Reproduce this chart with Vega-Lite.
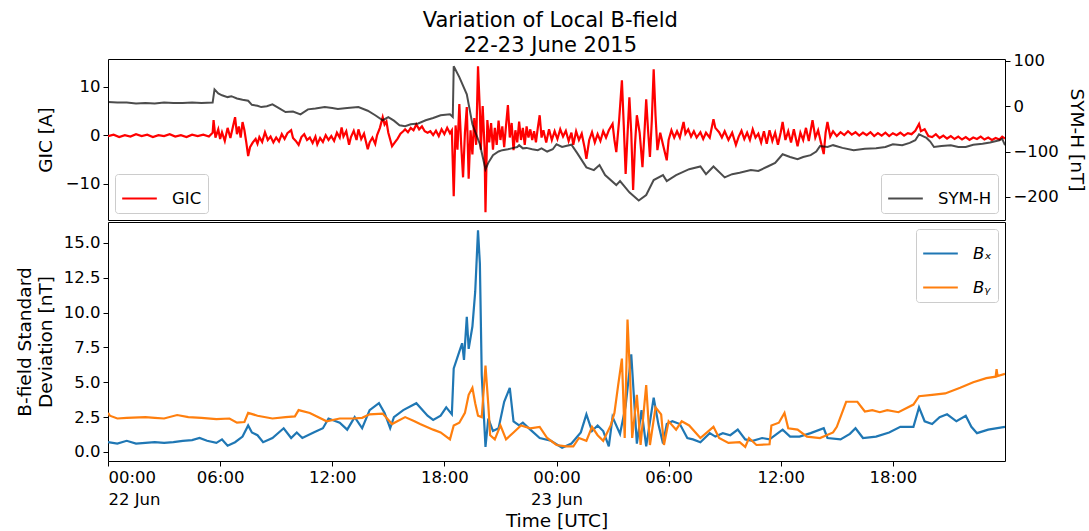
{
"$schema":"https://vega.github.io/schema/vega-lite/v6.json",
"padding":{"left":14,"top":10,"right":5,"bottom":5},
"config":{"font":"DejaVu Sans","view":{"stroke":"#000","strokeWidth":1},
 "axis":{"domain":false,"grid":false,"tickColor":"#000","tickSize":5,"labelColor":"#000","titleColor":"#000","labelFontSize":16.5,"titleFontSize":18.5,"titleFontWeight":"normal","labelPadding":3,"labelOverlap":false},
 "legend":{"symbolType":"stroke","symbolStrokeWidth":2,"symbolSize":1200,"labelFontSize":16.5,"labelColor":"#000","strokeColor":"#cccccc","fillColor":"white","cornerRadius":3,"padding":6,"labelOffset":14,"offset":7,"rowPadding":7,"title":null}},
"title":{"text":["Variation of Local B-field","22-23 June 2015"],"fontSize":21,"fontWeight":"normal","lineHeight":25,"anchor":"middle","offset":-4,"color":"#000"},
"datasets":{
"gic":[{"h":0,"v":-0.2},{"h":0.3,"v":0.1},{"h":0.6,"v":-0.4},{"h":0.9,"v":0.0},{"h":1.2,"v":-0.3},{"h":1.5,"v":0.2},{"h":1.8,"v":-0.2},{"h":2.1,"v":0.1},{"h":2.4,"v":-0.4},{"h":2.7,"v":0.0},{"h":3.0,"v":-0.2},{"h":3.3,"v":0.2},{"h":3.6,"v":-0.3},{"h":3.9,"v":0.0},{"h":4.2,"v":-0.4},{"h":4.5,"v":0.1},{"h":4.8,"v":-0.2},{"h":5.1,"v":0.1},{"h":5.4,"v":-0.3},{"h":5.6,"v":0.5},{"h":5.65,"v":3.1},{"h":5.75,"v":-0.5},{"h":5.9,"v":1.2},{"h":6.0,"v":-0.8},{"h":6.1,"v":0.6},{"h":6.25,"v":-1.2},{"h":6.4,"v":1.5},{"h":6.55,"v":-0.6},{"h":6.7,"v":2.0},{"h":6.8,"v":3.7},{"h":6.9,"v":0.2},{"h":7.0,"v":1.8},{"h":7.1,"v":-0.5},{"h":7.2,"v":2.7},{"h":7.3,"v":1.0},{"h":7.4,"v":-1.5},{"h":7.5,"v":-4.3},{"h":7.6,"v":-2.5},{"h":7.75,"v":-1.5},{"h":7.9,"v":-0.8},{"h":8.0,"v":-1.8},{"h":8.1,"v":-0.4},{"h":8.25,"v":-1.4},{"h":8.4,"v":0.6},{"h":8.55,"v":-1.0},{"h":8.7,"v":-0.3},{"h":8.85,"v":-1.5},{"h":9.0,"v":-0.5},{"h":9.15,"v":-1.3},{"h":9.3,"v":0.2},{"h":9.45,"v":-0.8},{"h":9.6,"v":0.4},{"h":9.8,"v":1.0},{"h":9.9,"v":-0.6},{"h":10.05,"v":-1.2},{"h":10.2,"v":-2.0},{"h":10.35,"v":-0.4},{"h":10.5,"v":0.2},{"h":10.65,"v":-1.0},{"h":10.8,"v":-0.5},{"h":10.95,"v":-1.6},{"h":11.1,"v":-0.3},{"h":11.2,"v":-1.9},{"h":11.35,"v":-0.6},{"h":11.5,"v":-1.4},{"h":11.65,"v":0.0},{"h":11.8,"v":-1.0},{"h":11.95,"v":-0.2},{"h":12.1,"v":-1.2},{"h":12.25,"v":0.5},{"h":12.4,"v":-0.5},{"h":12.5,"v":1.6},{"h":12.6,"v":-0.3},{"h":12.75,"v":0.8},{"h":12.9,"v":-2.0},{"h":13.0,"v":-0.4},{"h":13.15,"v":0.9},{"h":13.3,"v":-1.0},{"h":13.4,"v":1.2},{"h":13.55,"v":-0.8},{"h":13.7,"v":0.3},{"h":13.9,"v":-2.9},{"h":14.0,"v":-1.5},{"h":14.15,"v":-0.5},{"h":14.3,"v":-1.8},{"h":14.4,"v":0.0},{"h":14.55,"v":1.5},{"h":14.7,"v":3.7},{"h":14.8,"v":2.2},{"h":14.9,"v":2.8},{"h":15.0,"v":0.5},{"h":15.2,"v":-2.3},{"h":15.35,"v":-1.5},{"h":15.5,"v":-0.7},{"h":15.65,"v":0.3},{"h":15.8,"v":0.8},{"h":15.9,"v":1.2},{"h":16.05,"v":0.6},{"h":16.2,"v":1.5},{"h":16.35,"v":1.0},{"h":16.5,"v":2.2},{"h":16.65,"v":1.2},{"h":16.8,"v":1.8},{"h":16.95,"v":0.8},{"h":17.1,"v":0.5},{"h":17.25,"v":0.8},{"h":17.4,"v":0.0},{"h":17.55,"v":0.9},{"h":17.7,"v":-0.2},{"h":17.85,"v":1.2},{"h":18.0,"v":0.2},{"h":18.15,"v":1.5},{"h":18.3,"v":0.4},{"h":18.4,"v":1.0},{"h":18.5,"v":-12.6},{"h":18.6,"v":2.0},{"h":18.7,"v":-3.0},{"h":18.8,"v":6.4},{"h":18.9,"v":-2.0},{"h":19.0,"v":-8.7},{"h":19.1,"v":0.5},{"h":19.2,"v":5.8},{"h":19.3,"v":-9.0},{"h":19.4,"v":1.0},{"h":19.5,"v":-4.0},{"h":19.6,"v":3.5},{"h":19.7,"v":-2.0},{"h":19.8,"v":14.2},{"h":19.9,"v":5.0},{"h":19.95,"v":-3.0},{"h":20.05,"v":6.0},{"h":20.15,"v":-2.5},{"h":20.2,"v":-15.9},{"h":20.3,"v":3.1},{"h":20.4,"v":-1.5},{"h":20.5,"v":2.5},{"h":20.6,"v":-3.0},{"h":20.7,"v":1.5},{"h":20.8,"v":-2.0},{"h":20.9,"v":3.0},{"h":21.0,"v":-1.0},{"h":21.1,"v":1.8},{"h":21.2,"v":-2.5},{"h":21.3,"v":2.0},{"h":21.4,"v":6.2},{"h":21.5,"v":-0.5},{"h":21.6,"v":2.5},{"h":21.7,"v":-3.1},{"h":21.8,"v":1.0},{"h":21.9,"v":-1.5},{"h":22.0,"v":2.8},{"h":22.1,"v":-1.0},{"h":22.2,"v":1.5},{"h":22.3,"v":-2.0},{"h":22.4,"v":1.8},{"h":22.5,"v":-0.5},{"h":22.6,"v":1.2},{"h":22.7,"v":-1.0},{"h":22.8,"v":0.8},{"h":22.9,"v":-1.5},{"h":23.0,"v":1.5},{"h":23.1,"v":4.1},{"h":23.2,"v":-0.5},{"h":23.3,"v":1.0},{"h":23.45,"v":-1.5},{"h":23.6,"v":1.2},{"h":23.75,"v":-1.0},{"h":23.9,"v":0.8},{"h":24.05,"v":-0.8},{"h":24.2,"v":1.2},{"h":24.35,"v":-0.3},{"h":24.5,"v":0.9},{"h":24.65,"v":-1.2},{"h":24.8,"v":0.5},{"h":24.9,"v":-2.0},{"h":25.05,"v":0.8},{"h":25.2,"v":-1.0},{"h":25.35,"v":0.3},{"h":25.5,"v":-2.5},{"h":25.6,"v":-4.9},{"h":25.75,"v":-1.0},{"h":25.9,"v":0.6},{"h":26.05,"v":-1.5},{"h":26.2,"v":0.2},{"h":26.35,"v":-1.2},{"h":26.5,"v":0.8},{"h":26.65,"v":-0.5},{"h":26.8,"v":1.0},{"h":27.0,"v":2.3},{"h":27.1,"v":-1.0},{"h":27.2,"v":-3.5},{"h":27.35,"v":3.0},{"h":27.5,"v":11.3},{"h":27.6,"v":2.0},{"h":27.7,"v":-8.0},{"h":27.8,"v":0.0},{"h":27.9,"v":7.8},{"h":28.0,"v":0.5},{"h":28.1,"v":-11.3},{"h":28.2,"v":-2.0},{"h":28.3,"v":4.1},{"h":28.45,"v":0.5},{"h":28.6,"v":-6.6},{"h":28.7,"v":0.0},{"h":28.8,"v":7.4},{"h":28.9,"v":1.0},{"h":29.0,"v":-4.5},{"h":29.1,"v":3.0},{"h":29.2,"v":13.6},{"h":29.3,"v":4.0},{"h":29.4,"v":-3.1},{"h":29.55,"v":0.5},{"h":29.7,"v":-2.0},{"h":29.9,"v":-5.2},{"h":30.0,"v":-1.0},{"h":30.15,"v":1.0},{"h":30.3,"v":-0.5},{"h":30.45,"v":0.8},{"h":30.6,"v":-0.5},{"h":30.8,"v":2.7},{"h":30.9,"v":0.3},{"h":31.05,"v":1.2},{"h":31.2,"v":-0.3},{"h":31.35,"v":0.8},{"h":31.5,"v":-0.5},{"h":31.7,"v":0.6},{"h":31.85,"v":-0.8},{"h":32.0,"v":0.5},{"h":32.2,"v":-0.5},{"h":32.4,"v":3.3},{"h":32.5,"v":1.5},{"h":32.7,"v":0.6},{"h":32.85,"v":-0.5},{"h":33.0,"v":0.8},{"h":33.2,"v":-1.0},{"h":33.4,"v":0.5},{"h":33.6,"v":-2.0},{"h":33.75,"v":-0.3},{"h":33.9,"v":0.9},{"h":34.05,"v":-0.8},{"h":34.2,"v":0.5},{"h":34.35,"v":-1.0},{"h":34.5,"v":1.2},{"h":34.65,"v":-0.5},{"h":34.8,"v":0.3},{"h":34.95,"v":-1.5},{"h":35.1,"v":0.8},{"h":35.25,"v":-1.8},{"h":35.4,"v":1.0},{"h":35.55,"v":-1.2},{"h":35.7,"v":0.5},{"h":35.85,"v":-2.0},{"h":36.0,"v":0.6},{"h":36.1,"v":2.7},{"h":36.25,"v":-1.0},{"h":36.4,"v":0.8},{"h":36.55,"v":-1.5},{"h":36.7,"v":1.2},{"h":36.9,"v":-2.3},{"h":37.05,"v":0.5},{"h":37.2,"v":-1.0},{"h":37.35,"v":1.5},{"h":37.5,"v":-1.2},{"h":37.7,"v":3.1},{"h":37.85,"v":-0.5},{"h":38.0,"v":1.0},{"h":38.15,"v":-1.5},{"h":38.3,"v":-3.9},{"h":38.4,"v":0.5},{"h":38.5,"v":2.7},{"h":38.65,"v":-0.3},{"h":38.8,"v":0.8},{"h":39.0,"v":-0.2},{"h":39.2,"v":0.6},{"h":39.4,"v":0.0},{"h":39.6,"v":0.8},{"h":39.8,"v":0.1},{"h":40.0,"v":0.6},{"h":40.2,"v":-0.1},{"h":40.4,"v":0.5},{"h":40.6,"v":0.0},{"h":40.8,"v":0.6},{"h":41.0,"v":-0.2},{"h":41.2,"v":0.4},{"h":41.4,"v":-0.1},{"h":41.6,"v":0.5},{"h":41.8,"v":-0.2},{"h":42.0,"v":0.4},{"h":42.2,"v":0.0},{"h":42.4,"v":0.5},{"h":42.6,"v":-0.1},{"h":42.8,"v":0.4},{"h":43.0,"v":0.2},{"h":43.2,"v":0.9},{"h":43.4,"v":2.3},{"h":43.5,"v":0.8},{"h":43.7,"v":1.2},{"h":43.9,"v":-0.2},{"h":44.1,"v":-0.4},{"h":44.3,"v":0.2},{"h":44.5,"v":-0.6},{"h":44.7,"v":-0.1},{"h":44.9,"v":-0.7},{"h":45.1,"v":-0.2},{"h":45.3,"v":-0.8},{"h":45.5,"v":-0.3},{"h":45.7,"v":-0.9},{"h":45.9,"v":-0.4},{"h":46.1,"v":-1.0},{"h":46.3,"v":-0.5},{"h":46.5,"v":-0.8},{"h":46.7,"v":-0.3},{"h":46.9,"v":-0.9},{"h":47.1,"v":-0.5},{"h":47.3,"v":-1.0},{"h":47.5,"v":-0.6},{"h":47.7,"v":-0.9},{"h":47.85,"v":-0.3},{"h":48.0,"v":-0.7}],
"symh":[{"h":0,"v":9},{"h":0.5,"v":8},{"h":1,"v":8},{"h":1.5,"v":6},{"h":2,"v":7},{"h":2.5,"v":6},{"h":3,"v":8},{"h":3.5,"v":7},{"h":4,"v":7},{"h":4.5,"v":8},{"h":5,"v":7},{"h":5.6,"v":8},{"h":5.7,"v":37},{"h":5.9,"v":28},{"h":6.1,"v":24},{"h":6.4,"v":20},{"h":6.6,"v":22},{"h":6.9,"v":17},{"h":7.2,"v":14},{"h":7.5,"v":12},{"h":7.7,"v":3},{"h":8.0,"v":1},{"h":8.2,"v":-2},{"h":8.5,"v":0},{"h":8.8,"v":4},{"h":9.1,"v":-3},{"h":9.5,"v":-13},{"h":9.9,"v":-12},{"h":10.3,"v":-18},{"h":10.7,"v":-7},{"h":11.1,"v":-5},{"h":11.6,"v":-2},{"h":12.0,"v":-4},{"h":12.3,"v":-6},{"h":12.8,"v":-4},{"h":13.4,"v":-2},{"h":13.9,"v":-10},{"h":14.3,"v":-20},{"h":14.7,"v":-31},{"h":15.0,"v":-24},{"h":15.3,"v":-32},{"h":15.6,"v":-42},{"h":15.9,"v":-44},{"h":16.2,"v":-40},{"h":16.6,"v":-38},{"h":17.0,"v":-31},{"h":17.4,"v":-26},{"h":17.8,"v":-20},{"h":18.3,"v":-18},{"h":18.45,"v":-24},{"h":18.5,"v":88},{"h":18.8,"v":64},{"h":19.2,"v":26},{"h":19.5,"v":-40},{"h":19.9,"v":-84},{"h":20.2,"v":-139},{"h":20.35,"v":-125},{"h":20.6,"v":-108},{"h":20.9,"v":-100},{"h":21.1,"v":-97},{"h":21.4,"v":-95},{"h":21.7,"v":-92},{"h":21.9,"v":-90},{"h":22.0,"v":-86},{"h":22.2,"v":-93},{"h":22.4,"v":-92},{"h":22.7,"v":-95},{"h":23.0,"v":-97},{"h":23.2,"v":-93},{"h":23.5,"v":-100},{"h":23.8,"v":-95},{"h":24.0,"v":-84},{"h":24.3,"v":-90},{"h":24.5,"v":-88},{"h":24.8,"v":-85},{"h":25.1,"v":-103},{"h":25.6,"v":-135},{"h":26.0,"v":-141},{"h":26.3,"v":-130},{"h":26.6,"v":-152},{"h":27.2,"v":-174},{"h":27.4,"v":-165},{"h":27.9,"v":-190},{"h":28.4,"v":-208},{"h":28.8,"v":-196},{"h":29.2,"v":-163},{"h":29.7,"v":-152},{"h":29.9,"v":-165},{"h":30.4,"v":-152},{"h":31.1,"v":-139},{"h":31.7,"v":-133},{"h":32.0,"v":-150},{"h":32.4,"v":-133},{"h":33.0,"v":-157},{"h":33.4,"v":-150},{"h":33.8,"v":-147},{"h":34.4,"v":-141},{"h":34.8,"v":-143},{"h":35.3,"v":-133},{"h":35.7,"v":-125},{"h":36.1,"v":-106},{"h":36.5,"v":-112},{"h":36.9,"v":-117},{"h":37.2,"v":-112},{"h":37.6,"v":-108},{"h":37.9,"v":-100},{"h":38.1,"v":-88},{"h":38.5,"v":-90},{"h":38.8,"v":-86},{"h":39.3,"v":-92},{"h":39.9,"v":-97},{"h":40.5,"v":-94},{"h":41.1,"v":-93},{"h":41.6,"v":-90},{"h":42.0,"v":-84},{"h":42.5,"v":-86},{"h":42.9,"v":-81},{"h":43.2,"v":-75},{"h":43.4,"v":-62},{"h":43.6,"v":-66},{"h":43.8,"v":-70},{"h":44.0,"v":-78},{"h":44.2,"v":-90},{"h":44.6,"v":-88},{"h":45.1,"v":-86},{"h":45.5,"v":-90},{"h":45.9,"v":-90},{"h":46.3,"v":-85},{"h":46.8,"v":-83},{"h":47.2,"v":-80},{"h":47.7,"v":-75},{"h":47.85,"v":-72},{"h":48.0,"v":-86}],
"bx":[{"h":0,"v":0.7},{"h":0.5,"v":0.6},{"h":1.0,"v":0.8},{"h":1.5,"v":0.6},{"h":2.0,"v":0.65},{"h":2.5,"v":0.7},{"h":3.0,"v":0.65},{"h":3.5,"v":0.7},{"h":4.0,"v":0.8},{"h":4.5,"v":0.85},{"h":4.9,"v":1.0},{"h":5.3,"v":0.8},{"h":5.8,"v":0.65},{"h":6.1,"v":0.9},{"h":6.4,"v":0.45},{"h":6.8,"v":0.7},{"h":7.2,"v":1.1},{"h":7.5,"v":1.9},{"h":7.7,"v":1.4},{"h":8.0,"v":1.2},{"h":8.3,"v":0.7},{"h":8.8,"v":1.0},{"h":9.4,"v":1.7},{"h":9.8,"v":1.0},{"h":10.1,"v":1.4},{"h":10.4,"v":1.0},{"h":11.0,"v":1.4},{"h":11.5,"v":1.7},{"h":11.8,"v":2.4},{"h":12.4,"v":2.1},{"h":12.8,"v":1.6},{"h":13.2,"v":2.5},{"h":13.6,"v":1.7},{"h":14.0,"v":3.0},{"h":14.5,"v":3.5},{"h":14.8,"v":2.8},{"h":15.1,"v":1.7},{"h":15.3,"v":2.5},{"h":15.8,"v":3.0},{"h":16.5,"v":3.5},{"h":17.1,"v":2.6},{"h":17.4,"v":2.3},{"h":17.8,"v":2.6},{"h":18.1,"v":3.2},{"h":18.4,"v":2.7},{"h":18.5,"v":6.0},{"h":18.8,"v":7.2},{"h":18.95,"v":7.8},{"h":19.05,"v":6.6},{"h":19.2,"v":9.7},{"h":19.3,"v":7.4},{"h":19.5,"v":9.0},{"h":19.65,"v":11.5},{"h":19.8,"v":15.9},{"h":19.9,"v":13.5},{"h":20.0,"v":5.5},{"h":20.2,"v":0.36},{"h":20.35,"v":2.4},{"h":20.6,"v":1.5},{"h":20.9,"v":1.7},{"h":21.2,"v":3.6},{"h":21.5,"v":4.6},{"h":21.7,"v":2.2},{"h":22.0,"v":1.9},{"h":22.2,"v":2.1},{"h":22.6,"v":1.6},{"h":23.1,"v":1.0},{"h":23.7,"v":0.8},{"h":24.3,"v":0.3},{"h":24.8,"v":0.6},{"h":25.3,"v":1.4},{"h":25.6,"v":2.7},{"h":25.9,"v":1.5},{"h":26.2,"v":1.9},{"h":26.5,"v":1.5},{"h":26.8,"v":0.4},{"h":27.0,"v":2.5},{"h":27.4,"v":1.3},{"h":27.7,"v":3.3},{"h":28.0,"v":7.0},{"h":28.15,"v":3.8},{"h":28.3,"v":0.6},{"h":28.55,"v":3.0},{"h":28.8,"v":0.4},{"h":29.2,"v":3.9},{"h":29.45,"v":2.0},{"h":29.7,"v":0.6},{"h":29.9,"v":2.0},{"h":30.2,"v":2.2},{"h":30.6,"v":2.0},{"h":31.0,"v":1.0},{"h":31.3,"v":0.9},{"h":31.7,"v":0.7},{"h":32.2,"v":1.35},{"h":32.5,"v":1.1},{"h":32.9,"v":1.35},{"h":33.3,"v":1.2},{"h":33.7,"v":1.6},{"h":34.1,"v":0.9},{"h":34.5,"v":0.8},{"h":35.0,"v":1.0},{"h":35.4,"v":0.9},{"h":36.1,"v":1.6},{"h":36.5,"v":1.1},{"h":37.0,"v":1.1},{"h":37.6,"v":1.35},{"h":38.3,"v":1.7},{"h":38.5,"v":1.0},{"h":39.2,"v":0.9},{"h":39.7,"v":1.3},{"h":40.0,"v":1.7},{"h":40.4,"v":1.0},{"h":41.1,"v":1.1},{"h":41.8,"v":1.4},{"h":42.4,"v":1.8},{"h":43.1,"v":1.8},{"h":43.4,"v":3.2},{"h":43.7,"v":2.2},{"h":44.1,"v":2.0},{"h":44.5,"v":2.5},{"h":44.9,"v":2.7},{"h":45.4,"v":2.2},{"h":45.9,"v":2.6},{"h":46.2,"v":1.8},{"h":46.5,"v":1.35},{"h":47.1,"v":1.6},{"h":48.0,"v":1.8}],
"by":[{"h":0,"v":2.8},{"h":0.1,"v":2.6},{"h":0.5,"v":2.4},{"h":1.0,"v":2.45},{"h":2.0,"v":2.5},{"h":2.5,"v":2.45},{"h":3.0,"v":2.4},{"h":3.7,"v":2.65},{"h":4.3,"v":2.5},{"h":5.0,"v":2.45},{"h":5.8,"v":2.35},{"h":6.5,"v":2.4},{"h":6.9,"v":2.1},{"h":7.3,"v":2.15},{"h":7.5,"v":2.8},{"h":8.0,"v":2.6},{"h":8.8,"v":2.4},{"h":9.5,"v":2.5},{"h":10.0,"v":2.55},{"h":10.2,"v":3.0},{"h":10.8,"v":2.8},{"h":11.7,"v":2.2},{"h":12.4,"v":2.4},{"h":13.1,"v":2.4},{"h":13.6,"v":2.45},{"h":14.0,"v":2.7},{"h":14.7,"v":2.75},{"h":15.2,"v":2.0},{"h":15.9,"v":2.5},{"h":16.4,"v":2.2},{"h":16.7,"v":2.0},{"h":17.4,"v":1.6},{"h":17.8,"v":1.4},{"h":18.3,"v":0.9},{"h":18.5,"v":1.9},{"h":18.8,"v":2.1},{"h":19.1,"v":2.8},{"h":19.3,"v":4.1},{"h":19.5,"v":4.6},{"h":19.65,"v":3.5},{"h":19.8,"v":2.6},{"h":20.0,"v":2.5},{"h":20.2,"v":6.2},{"h":20.35,"v":3.4},{"h":20.45,"v":1.2},{"h":20.7,"v":0.9},{"h":21.0,"v":1.9},{"h":21.3,"v":0.9},{"h":21.7,"v":1.4},{"h":22.1,"v":1.9},{"h":22.6,"v":1.7},{"h":23.1,"v":1.8},{"h":23.5,"v":1.0},{"h":24.0,"v":0.5},{"h":24.5,"v":0.4},{"h":24.9,"v":0.4},{"h":25.2,"v":1.0},{"h":25.6,"v":0.8},{"h":25.9,"v":1.8},{"h":26.2,"v":1.2},{"h":26.5,"v":0.8},{"h":26.9,"v":1.9},{"h":27.1,"v":2.8},{"h":27.3,"v":4.8},{"h":27.5,"v":6.7},{"h":27.65,"v":1.0},{"h":27.8,"v":9.5},{"h":27.95,"v":5.0},{"h":28.05,"v":1.0},{"h":28.3,"v":4.1},{"h":28.5,"v":0.5},{"h":28.8,"v":4.8},{"h":29.0,"v":0.5},{"h":29.3,"v":3.2},{"h":29.6,"v":2.7},{"h":29.75,"v":0.5},{"h":30.0,"v":2.2},{"h":30.4,"v":1.6},{"h":30.7,"v":2.2},{"h":31.1,"v":1.9},{"h":31.7,"v":1.0},{"h":32.4,"v":1.8},{"h":32.7,"v":1.0},{"h":33.2,"v":0.65},{"h":33.8,"v":0.7},{"h":34.1,"v":0.36},{"h":34.3,"v":1.0},{"h":34.7,"v":0.5},{"h":35.4,"v":0.55},{"h":35.5,"v":1.9},{"h":35.9,"v":2.1},{"h":36.2,"v":2.8},{"h":36.4,"v":1.7},{"h":36.9,"v":1.6},{"h":37.4,"v":1.1},{"h":38.1,"v":1.0},{"h":38.8,"v":1.4},{"h":39.0,"v":1.8},{"h":39.5,"v":3.6},{"h":40.1,"v":3.6},{"h":40.5,"v":2.9},{"h":40.9,"v":3.0},{"h":41.3,"v":2.85},{"h":41.7,"v":3.0},{"h":42.3,"v":2.85},{"h":43.1,"v":3.4},{"h":43.4,"v":4.0},{"h":44.1,"v":4.1},{"h":44.8,"v":4.2},{"h":45.6,"v":4.6},{"h":46.3,"v":5.0},{"h":47.0,"v":5.3},{"h":47.5,"v":5.4},{"h":47.55,"v":5.95},{"h":47.6,"v":5.45},{"h":48.0,"v":5.6}]
},
"spacing":0,
"resolve":{"scale":{"color":"independent"},"legend":{"color":"independent"}},
"vconcat":[
{"width":897,"height":161,
 "layer":[
  {"data":{"name":"gic"},"mark":{"type":"line","strokeWidth":2.2,"clip":true},
   "encoding":{
    "x":{"field":"h","type":"quantitative","scale":{"domain":[0,48],"nice":false,"zero":false},"axis":null},
    "y":{"field":"v","type":"quantitative","scale":{"domain":[-17.5,15.7],"nice":false,"zero":false},"axis":{"title":"GIC [A]","values":[-10,0,10],"titlePadding":10}},
    "color":{"datum":"GIC","type":"nominal","scale":{"domain":["GIC"],"range":["#ff0000"]},"legend":{"orient":"bottom-left"}}}},
  {"data":{"name":"symh"},"mark":{"type":"line","strokeWidth":2,"opacity":0.7,"clip":true},
   "encoding":{
    "x":{"field":"h","type":"quantitative","scale":{"domain":[0,48],"nice":false,"zero":false},"axis":null},
    "y":{"field":"v","type":"quantitative","scale":{"domain":[-251,104],"nice":false,"zero":false},"axis":{"title":"SYM-H [nT]","orient":"right","values":[-200,-100,0,100],"titlePadding":8}},
    "color":{"datum":"SYM-H","type":"nominal","scale":{"domain":["SYM-H"],"range":["#000000"]},"legend":{"orient":"bottom-right","symbolOpacity":0.7}}}}
 ],
 "resolve":{"scale":{"y":"independent","color":"independent"},"legend":{"color":"independent"}}
},
{"width":897,"height":239,
 "encoding":{
    "x":{"field":"h","type":"quantitative","scale":{"domain":[0,48],"nice":false,"zero":false},
      "axis":{"title":"Time [UTC]","values":[0,6,12,18,24,30,36,42],"labelExpr":"datum.value % 24 == 0 ? ['00:00', datum.value == 0 ? '22 Jun' : '23 Jun'] : ((datum.value % 24 < 10 ? '0' : '') + (datum.value % 24) + ':00')","labelLineHeight":22,"titlePadding":4}},
    "y":{"field":"v","type":"quantitative","scale":{"domain":[-0.65,16.5],"nice":false,"zero":false},"axis":{"title":["B-field Standard","Deviation [nT]"],"titleLineHeight":21,"values":[0,2.5,5,7.5,10,12.5,15],"tickCount":7,"labelExpr":"format(datum.value, '.1f')","labelOverlap":false,"titlePadding":8}}
 },
 "layer":[
  {"data":{"name":"bx"},"mark":{"type":"line","strokeWidth":2.2,"clip":true},
   "encoding":{
    "color":{"datum":"Bx","type":"nominal","scale":{"domain":["Bx","By"],"range":["#1f77b4","#ff7f0e"]},"legend":{"orient":"top-right","labelExpr":"datum.label == 'Bx' ? 'Bₓ' : 'Bᵧ'","labelFontStyle":"italic"}}}},
  {"data":{"name":"by"},"mark":{"type":"line","strokeWidth":2.2,"clip":true},
   "encoding":{
    "color":{"datum":"By","type":"nominal"}}}
 ]
}
]
}
